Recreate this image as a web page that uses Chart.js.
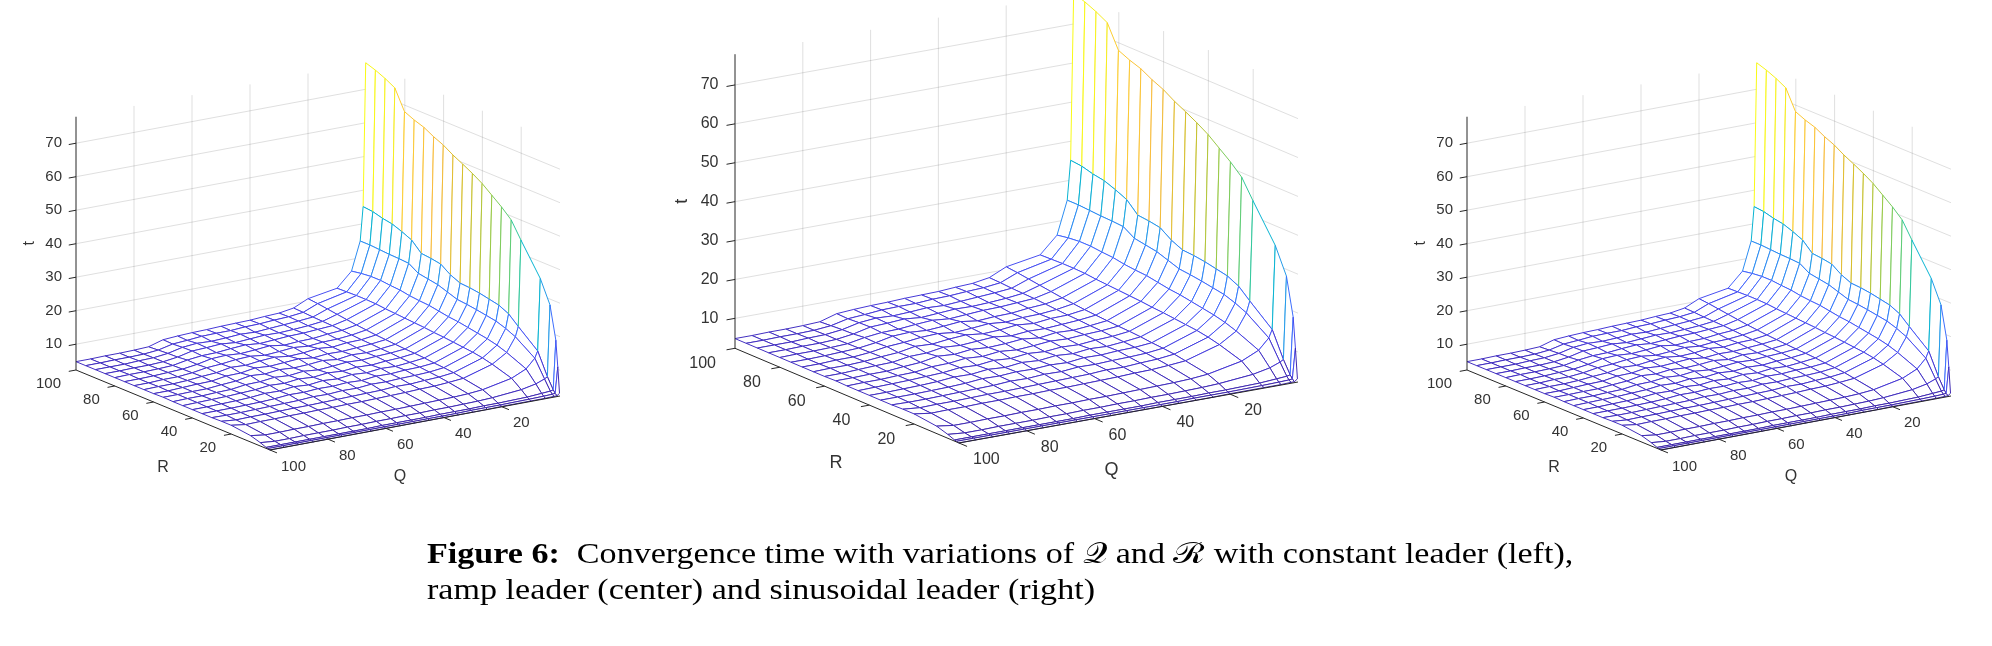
<!DOCTYPE html>
<html>
<head>
<meta charset="utf-8">
<title>Figure 6</title>
<script src="https://cdn.jsdelivr.net/npm/chart.js@4.4.1/dist/chart.umd.min.js"></script>
<style>
  html, body { margin: 0; padding: 0; background: #fff; }
  #page { position: relative; width: 1992px; height: 646px; overflow: hidden; }
  #fig { position: absolute; left: 0; top: 0; }
  .cap { position: absolute; left: 427px; white-space: nowrap; font-family: "Liberation Serif", "DejaVu Serif", serif;
         font-size: 29px; line-height: 29px; color: #000; transform-origin: 0 0; }
  .cap b { font-weight: bold; }
</style>
</head>
<body>
<div id="page">
  <canvas id="fig" width="1992" height="646"></canvas>
  <div class="cap" id="cap1" style="top:539px"><b>Figure 6:</b>&nbsp; Convergence time with variations of 𝒬 and ℛ with constant leader (left),</div>
  <div class="cap" id="cap2" style="top:575px">ramp leader (center) and sinusoidal leader (right)</div>
</div>
<script>
// sample points used for both Q and R
const gridVals = [0.1, 1, 2, 5, 10, 20, 25, 30, 35, 40, 45, 50, 55, 60, 65, 70, 75, 80, 85, 90, 95, 100];
const qTicks = [20, 40, 60, 80, 100];
const rTicks = [20, 40, 60, 80, 100];
const tTicks = [10, 20, 30, 40, 50, 60, 70];

// convergence time t: one row per Q value (gridVals order), columns follow R (gridVals order)
const tConstant = [
  [3.1, 10.8, 18.5, 28.3, 35.0, 44.1, 48.9, 51.6, 53.9, 56.2, 58.0, 59.6, 61.1, 62.9, 64.2, 65.8, 66.8, 68.1, 74.0, 75.6, 76.9, 77.9],
  [2.5, 3.0, 3.8, 7.0, 13.5, 18.4, 21.0, 22.4, 23.0, 23.6, 24.0, 24.2, 25.5, 27.5, 28.0, 28.3, 31.1, 32.4, 33.5, 34.0, 34.8, 35.1],
  [2.5, 2.9, 3.6, 6.5, 11.5, 15.5, 16.8, 17.8, 18.3, 18.8, 19.2, 19.5, 20.5, 21.5, 22.0, 22.5, 24.3, 24.5, 24.6, 24.8, 25.0, 25.0],
  [2.4, 2.8, 3.4, 5.5, 8.8, 11.3, 12.3, 13.0, 13.5, 14.0, 14.5, 14.8, 15.3, 15.8, 16.0, 16.3, 16.8, 17.0, 17.3, 17.3, 17.0, 16.5],
  [2.4, 2.7, 3.1, 4.6, 6.8, 8.6, 9.3, 9.8, 10.1, 10.4, 10.7, 10.9, 11.2, 11.4, 11.6, 11.8, 12.0, 12.3, 12.4, 12.4, 12.3, 12.2],
  [2.4, 2.6, 2.9, 3.8, 5.0, 6.0, 6.5, 6.8, 7.0, 7.3, 7.5, 7.6, 7.8, 8.0, 8.2, 8.5, 8.8, 9.2, 9.6, 10.0, 10.4, 10.7],
  [2.3, 2.6, 2.9, 3.6, 4.6, 5.6, 6.0, 6.3, 6.6, 6.8, 7.0, 7.2, 7.3, 7.5, 7.6, 7.8, 8.0, 8.2, 8.3, 8.4, 8.6, 8.7],
  [2.3, 2.6, 2.8, 3.5, 4.4, 5.3, 5.8, 6.1, 6.5, 6.4, 6.8, 7.0, 6.9, 7.2, 7.5, 7.4, 7.7, 7.9, 7.8, 8.0, 8.1, 8.0],
  [2.3, 2.5, 2.8, 3.4, 4.3, 5.2, 5.5, 6.0, 6.2, 6.6, 6.4, 6.7, 7.1, 6.9, 7.0, 7.3, 7.2, 7.6, 7.5, 7.7, 7.9, 7.8],
  [2.3, 2.5, 2.8, 3.4, 4.2, 5.0, 5.6, 5.8, 6.3, 6.1, 6.6, 6.9, 6.5, 7.0, 7.4, 6.9, 7.1, 7.5, 7.3, 7.4, 7.6, 7.5],
  [2.3, 2.5, 2.7, 3.3, 4.1, 4.9, 5.3, 5.9, 5.8, 6.4, 6.2, 6.5, 7.0, 6.6, 6.9, 7.3, 6.8, 7.2, 7.4, 7.1, 7.5, 7.4],
  [2.3, 2.5, 2.7, 3.3, 4.0, 4.8, 5.2, 5.5, 6.0, 5.9, 6.5, 6.2, 6.6, 7.1, 6.7, 6.9, 7.4, 6.9, 7.1, 7.3, 7.2, 7.3],
  [2.3, 2.5, 2.7, 3.2, 4.0, 4.7, 5.1, 5.6, 5.7, 6.2, 6.0, 6.6, 6.4, 6.8, 7.2, 6.6, 7.0, 7.3, 6.8, 7.0, 7.2, 7.1],
  [2.3, 2.5, 2.7, 3.2, 3.9, 4.7, 5.0, 5.3, 5.8, 5.7, 6.3, 6.1, 6.7, 6.5, 6.9, 7.1, 6.7, 7.0, 7.2, 6.8, 7.1, 7.0],
  [2.3, 2.5, 2.6, 3.1, 3.9, 4.6, 4.9, 5.4, 5.5, 6.0, 5.8, 6.4, 6.2, 6.8, 6.4, 6.9, 7.0, 6.6, 6.9, 7.0, 6.7, 6.8],
  [2.3, 2.5, 2.6, 3.1, 3.8, 4.6, 4.8, 5.1, 5.6, 5.5, 6.0, 5.9, 6.5, 6.1, 6.6, 6.4, 6.8, 6.5, 6.7, 6.6, 6.4, 6.5],
  [2.3, 2.5, 2.6, 3.0, 3.8, 4.5, 4.8, 5.0, 5.2, 5.6, 5.5, 5.8, 5.7, 6.0, 5.8, 6.1, 5.9, 6.0, 5.7, 5.6, 5.4, 5.2],
  [2.3, 2.5, 2.6, 3.0, 3.7, 4.5, 4.7, 4.9, 5.0, 5.2, 5.3, 5.2, 5.4, 5.3, 5.5, 5.4, 5.3, 5.2, 5.1, 5.1, 5.0, 5.0],
  [2.3, 2.5, 2.6, 3.0, 3.7, 4.4, 4.6, 4.8, 4.9, 5.0, 5.1, 5.1, 5.0, 5.2, 5.1, 5.0, 5.1, 5.0, 4.9, 5.0, 4.9, 4.9],
  [2.3, 2.5, 2.6, 2.9, 3.6, 4.4, 4.6, 4.7, 4.8, 4.9, 5.0, 4.9, 5.0, 5.0, 4.9, 5.0, 4.9, 4.9, 4.9, 4.8, 4.9, 4.9],
  [2.3, 2.5, 2.6, 2.9, 3.6, 4.3, 4.5, 4.7, 4.8, 4.8, 4.9, 4.9, 4.9, 4.8, 4.9, 4.8, 4.8, 4.9, 4.8, 4.8, 4.8, 4.8],
  [2.3, 2.5, 2.6, 3.3, 4.2, 4.9, 4.9, 4.8, 4.8, 4.8, 4.8, 4.8, 4.9, 4.8, 4.8, 4.8, 4.8, 4.8, 4.8, 4.8, 4.8, 4.8]
];
// the ramp and sinusoidal panels read the same as the constant one at this resolution
const tRamp = tConstant;
const tSine = tConstant;

// parula colormap, evenly spaced stops
const parulaStops = [
  [62, 38, 168], [69, 55, 213], [72, 77, 240], [69, 99, 253], [50, 124, 252], [43, 145, 239],
  [32, 165, 227], [8, 181, 208], [25, 191, 182], [55, 200, 151], [100, 205, 111], [157, 201, 67],
  [209, 191, 39], [248, 186, 61], [252, 207, 48], [245, 233, 36], [249, 251, 21]
];

// screen placement of each 3-D box: corner = (Q=0, R=0, t=min), vectors per data unit
const panels = [
  { values: tConstant, origin: [560, 396], perQ: [-2.90, 0.54], perR: [-1.94, -0.80], perT: 3.35,
    tickFont: 15, titleFont: 16, rLab: [-15, 14], qLab: [11, 16.5], tLab: -14,
    rTitle: [-10, 58], qTitle: [-15, 54], tTitle: -46 },
  { values: tRamp, origin: [1298, 382], perQ: [-3.39, 0.61], perR: [-2.24, -0.947], perT: 3.89,
    tickFont: 16, titleFont: 18, rLab: [-19, 15.5], qLab: [14, 16.5], tLab: -16.5,
    rTitle: [-11, 67], qTitle: [-17, 57.5], tTitle: -53 },
  { values: tSine, origin: [1951, 396], perQ: [-2.90, 0.54], perR: [-1.94, -0.80], perT: 3.35,
    tickFont: 15, titleFont: 16, rLab: [-15, 14], qLab: [11, 16.5], tLab: -14,
    rTitle: [-10, 58], qTitle: [-15, 54], tTitle: -46 }
];

const tickLenQ = 2.5;   // tick length along Q (data units)
const tickLenR = 3.6;   // tick length along R (data units)

function parula(v) {
  const s = Math.max(0, Math.min(1, v)) * (parulaStops.length - 1);
  const k = Math.min(Math.floor(s), parulaStops.length - 2);
  const f = s - k;
  const a = parulaStops[k], b = parulaStops[k + 1];
  return 'rgb(' + a.map((c, n) => Math.round(c + (b[n] - c) * f)).join(',') + ')';
}

const datasets = [];
const line = (pts, color, width, order) => datasets.push({
  data: pts, showLine: true, borderColor: color, borderWidth: width, pointRadius: 0, order
});

panels.forEach(p => {
  const all = p.values.flat();
  p.zMin = Math.min(...all);
  p.zMax = Math.max(...all);
  p.proj = (q, r, t) => ({
    x: p.origin[0] + p.perQ[0] * q + p.perR[0] * r,
    y: p.origin[1] + p.perQ[1] * q + p.perR[1] * r - p.perT * (t - p.zMin)
  });
  const P = p.proj;
  const gridCol = 'rgba(38,38,38,0.15)';

  // back walls
  tTicks.forEach(t => {
    line([P(100, 100, t), P(0, 100, t)], gridCol, 1, 100000);
    line([P(0, 100, t), P(0, 0, t)], gridCol, 1, 100000);
  });
  qTicks.filter(q => q < 100).forEach(q => line([P(q, 100, p.zMin), P(q, 100, p.zMax)], gridCol, 1, 100000));
  rTicks.forEach(r => line([P(0, r, p.zMin), P(0, r, p.zMax)], gridCol, 1, 100000));

  // mesh: one white quad per cell, drawn far to near
  const n = gridVals.length;
  const col = (i, j) => parula((p.values[i][j] - p.zMin) / (p.zMax - p.zMin));
  for (let i = 0; i < n - 1; i++) {
    for (let j = 0; j < n - 1; j++) {
      const q0 = gridVals[i], q1 = gridVals[i + 1], r0 = gridVals[j], r1 = gridVals[j + 1];
      const v = p.values;
      const pts = [P(q0, r0, v[i][j]), P(q1, r0, v[i + 1][j]), P(q1, r1, v[i + 1][j + 1]), P(q0, r1, v[i][j + 1]), P(q0, r0, v[i][j])];
      const edgeCols = [col(i, j), col(i + 1, j), col(i, j + 1), col(i, j)];
      const depth = 0.556 * (q0 + q1) / 2 - 0.831 * (r0 + r1) / 2;
      datasets.push({
        data: pts, showLine: true, pointRadius: 0, borderWidth: 1,
        borderColor: edgeCols[0],
        segment: { borderColor: ctx => edgeCols[ctx.p0DataIndex] },
        faceColor: '#ffffff',
        order: 1000 - depth
      });
    }
  }

  // axes and ticks
  const axisCol = '#262626';
  line([P(100, 100, p.zMin), P(100, 100, p.zMax)], axisCol, 1, 0);
  line([P(100, 100, p.zMin), P(100, 0, p.zMin)], axisCol, 1, 0);
  line([P(100, 0, p.zMin), P(0, 0, p.zMin)], axisCol, 1, 0);
  tTicks.forEach(t => line([P(100, 100, t), P(100 + tickLenQ, 100, t)], axisCol, 1, 0));
  rTicks.forEach(r => line([P(100, r, p.zMin), P(100 + tickLenQ, r, p.zMin)], axisCol, 1, 0));
  qTicks.forEach(q => line([P(q, 0, p.zMin), P(q, -tickLenR, p.zMin)], axisCol, 1, 0));
});

// fills each mesh cell white right before its edges are stroked
const meshFaces = {
  id: 'meshFaces',
  beforeDatasetDraw(chart, args) {
    const ds = chart.data.datasets[args.index];
    if (!ds.faceColor) return;
    const pts = args.meta.data;
    const ctx = chart.ctx;
    ctx.save();
    ctx.beginPath();
    pts.forEach((pt, k) => (k ? ctx.lineTo(pt.x, pt.y) : ctx.moveTo(pt.x, pt.y)));
    ctx.closePath();
    ctx.fillStyle = ds.faceColor;
    ctx.fill();
    ctx.restore();
  }
};

// tick labels and axis titles
const axisText = {
  id: 'axisText',
  afterDatasetsDraw(chart) {
    const ctx = chart.ctx;
    const xs = chart.scales.x, ys = chart.scales.y;
    const px = pt => ({ x: xs.getPixelForValue(pt.x), y: ys.getPixelForValue(pt.y) });
    ctx.save();
    ctx.fillStyle = '#333333';
    panels.forEach(p => {
      const P = (q, r, t) => px(p.proj(q, r, t));
      ctx.font = p.tickFont + 'px "Liberation Sans", Arial, sans-serif';
      ctx.textBaseline = 'middle';
      ctx.textAlign = 'right';
      tTicks.forEach(t => { const a = P(100, 100, t); ctx.fillText(String(t), a.x + p.tLab, a.y); });
      rTicks.forEach(r => { const a = P(100, r, p.zMin); ctx.fillText(String(r), a.x + p.rLab[0], a.y + p.rLab[1]); });
      ctx.textAlign = 'left';
      qTicks.forEach(q => { const a = P(q, 0, p.zMin); ctx.fillText(String(q), a.x + p.qLab[0], a.y + p.qLab[1]); });

      ctx.font = p.titleFont + 'px "Liberation Sans", Arial, sans-serif';
      ctx.textAlign = 'center';
      const rm = P(100, 50, p.zMin);
      ctx.fillText('R', rm.x + p.rTitle[0], rm.y + p.rTitle[1]);
      const qm = P(50, 0, p.zMin);
      ctx.fillText('Q', qm.x + p.qTitle[0], qm.y + p.qTitle[1]);
      const tm = P(100, 100, (p.zMin + p.zMax) / 2);
      ctx.save();
      ctx.translate(tm.x + p.tTitle, tm.y);
      ctx.rotate(-Math.PI / 2);
      ctx.fillText('t', 0, 0);
      ctx.restore();
    });
    ctx.restore();
  }
};

document.addEventListener('DOMContentLoaded', () => {
  new Chart(document.getElementById('fig'), {
    type: 'scatter',
    data: { datasets },
    options: {
      responsive: false,
      animation: false,
      events: [],
      parsing: false,
      normalized: true,
      layout: { padding: 0 },
      plugins: { legend: { display: false }, tooltip: { enabled: false } },
      scales: {
        x: { type: 'linear', min: 0, max: 1992, display: false },
        y: { type: 'linear', min: 0, max: 646, reverse: true, display: false }
      }
    },
    plugins: [meshFaces, axisText]
  });

  // caption: match the width of the second line in the figure
  const fit = () => {
    const c1 = document.getElementById('cap1');
    const c2 = document.getElementById('cap2');
    const w2 = c2.getBoundingClientRect().width;
    const s = 668 / w2;
    c1.style.transform = 'scaleX(' + s + ')';
    c2.style.transform = 'scaleX(' + s + ')';
  };
  if (document.fonts && document.fonts.ready) document.fonts.ready.then(fit); else fit();
});
</script>
</body>
</html>
